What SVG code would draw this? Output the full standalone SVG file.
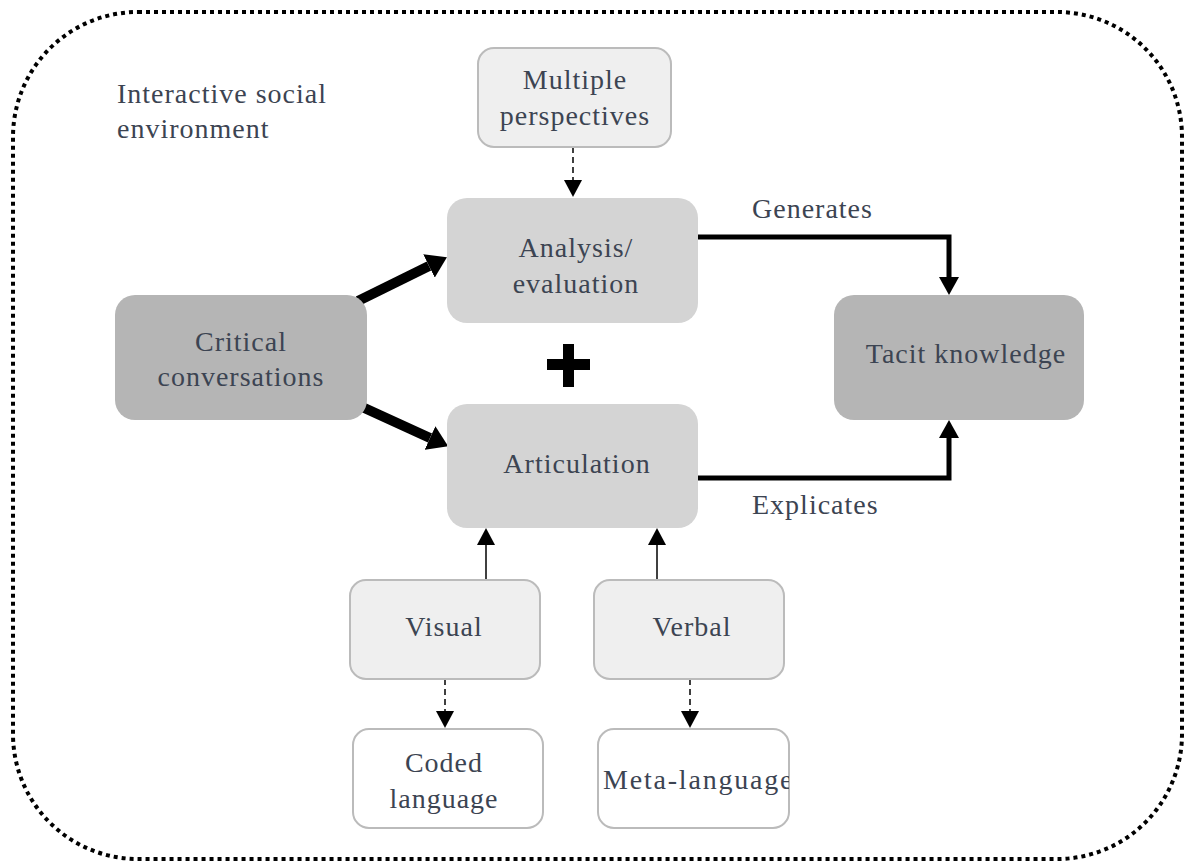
<svg xmlns="http://www.w3.org/2000/svg" width="1184" height="861" viewBox="0 0 1184 861">
<style>
text{font-family:"Liberation Serif","Times New Roman",serif;font-size:28px;fill:#3c4452;letter-spacing:1px}
.c{text-anchor:middle}
.light{fill:#efefef;stroke:#bbbbbb;stroke-width:2}
.white{fill:#ffffff;stroke:#bbbbbb;stroke-width:2}
.mid{fill:#d4d4d4}
.dark{fill:#b5b5b5}
.thick{fill:none;stroke:#000;stroke-width:5}
.heavy{fill:none;stroke:#000;stroke-width:10}
.thin{fill:none;stroke:#000;stroke-width:1.5}
.dash{fill:none;stroke:#000;stroke-width:1.5;stroke-dasharray:6 4}
</style>
<defs>
<marker id="mBig" viewBox="0 0 18 20" refX="0" refY="10" markerWidth="18" markerHeight="20" markerUnits="userSpaceOnUse" orient="auto"><path d="M0,0 L18,10 L0,20 z" fill="#000"/></marker>
<marker id="mHeavy" viewBox="0 0 20 26" refX="0" refY="13" markerWidth="20" markerHeight="26" markerUnits="userSpaceOnUse" orient="auto"><path d="M0,0 L20,13 L0,26 z" fill="#000"/></marker>
<marker id="mThin" viewBox="0 0 17 18" refX="0" refY="9" markerWidth="17" markerHeight="18" markerUnits="userSpaceOnUse" orient="auto"><path d="M0,0 L17,9 L0,18 z" fill="#000"/></marker>
<clipPath id="clipMeta"><rect x="598" y="729" width="191" height="99" rx="16"/></clipPath>
</defs>

<g id="environment">
<rect x="13" y="12" width="1169" height="847" rx="125" ry="125" fill="none" stroke="#000" stroke-width="4" stroke-dasharray="4 4"/>
<text x="117" y="103">Interactive social</text>
<text x="117" y="138">environment</text>
</g>

<g id="connectors">
<path class="heavy" d="M358,301 L429,266" marker-end="url(#mHeavy)"/>
<path class="heavy" d="M360,406 L430,438" marker-end="url(#mHeavy)"/>
<path class="thick" d="M698,237 H949 V277" marker-end="url(#mBig)"/>
<path class="thick" d="M698,478 H949 V438" marker-end="url(#mBig)"/>
<path class="dash" d="M573,147 V180" marker-end="url(#mThin)"/>
<path class="thin" d="M486,580 V545" marker-end="url(#mThin)"/>
<path class="thin" d="M657,580 V545" marker-end="url(#mThin)"/>
<path class="dash" d="M445,679 V711" marker-end="url(#mThin)"/>
<path class="dash" d="M690,679 V711" marker-end="url(#mThin)"/>
<text x="752" y="218">Generates</text>
<text x="752" y="514">Explicates</text>
</g>

<g id="plus">
<rect x="547" y="359" width="43" height="11" fill="#000"/>
<rect x="563" y="344" width="11" height="43" fill="#000"/>
</g>

<g id="multiple-perspectives">
<rect class="light" x="478" y="48" width="193" height="99" rx="16"/>
<text class="c" x="575" y="89">Multiple</text>
<text class="c" x="575" y="125">perspectives</text>
</g>

<g id="analysis-evaluation">
<rect class="mid" x="447" y="198" width="251" height="125" rx="20"/>
<text class="c" x="576" y="257">Analysis/</text>
<text class="c" x="576" y="293">evaluation</text>
</g>

<g id="articulation">
<rect class="mid" x="447" y="404" width="251" height="124" rx="20"/>
<text class="c" x="577" y="473">Articulation</text>
</g>

<g id="critical-conversations">
<rect class="dark" x="115" y="295" width="252" height="125" rx="20"/>
<text class="c" x="241" y="351">Critical</text>
<text class="c" x="241" y="386">conversations</text>
</g>

<g id="tacit-knowledge">
<rect class="dark" x="834" y="295" width="250" height="125" rx="20"/>
<text class="c" x="966" y="363">Tacit knowledge</text>
</g>

<g id="visual">
<rect class="light" x="350" y="580" width="190" height="99" rx="16"/>
<text class="c" x="444" y="636">Visual</text>
</g>

<g id="verbal">
<rect class="light" x="594" y="580" width="190" height="99" rx="16"/>
<text class="c" x="692" y="636">Verbal</text>
</g>

<g id="coded-language">
<rect class="white" x="353" y="729" width="190" height="99" rx="16"/>
<text class="c" x="444" y="772">Coded</text>
<text class="c" x="444" y="808">language</text>
</g>

<g id="meta-language">
<rect class="white" x="598" y="729" width="191" height="99" rx="16"/>
<text x="603" y="789" clip-path="url(#clipMeta)" style="letter-spacing:1.8px">Meta-language</text>
</g>
</svg>
